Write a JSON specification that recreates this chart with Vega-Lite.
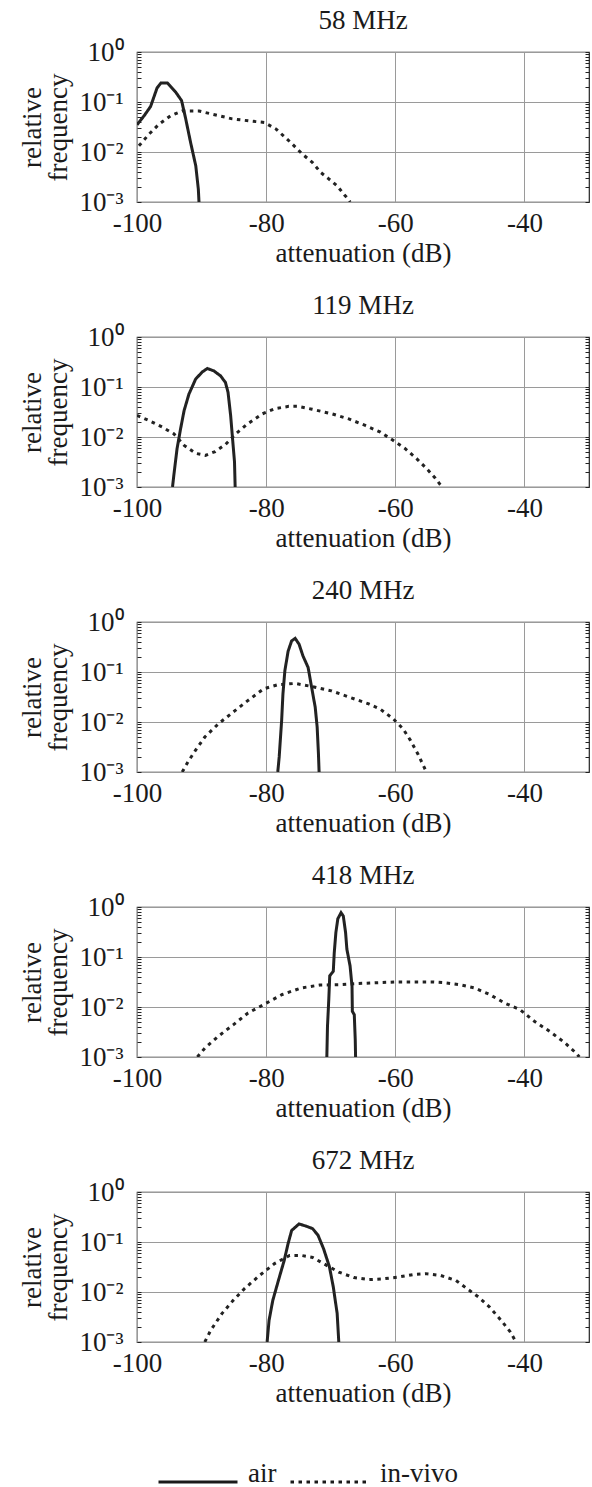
{
"$schema":"https://vega.github.io/schema/vega-lite/v6.json",
"padding":{"left":18,"top":6,"right":0,"bottom":0},
"data":{"values":[
{"panel":"58 MHz","series":"air","att":-100,"rel":0.035},
{"panel":"58 MHz","series":"air","att":-98.9,"rel":0.053},
{"panel":"58 MHz","series":"air","att":-97.9,"rel":0.081},
{"panel":"58 MHz","series":"air","att":-96.9,"rel":0.19},
{"panel":"58 MHz","series":"air","att":-96.3,"rel":0.24},
{"panel":"58 MHz","series":"air","att":-95.3,"rel":0.24},
{"panel":"58 MHz","series":"air","att":-94.0,"rel":0.157},
{"panel":"58 MHz","series":"air","att":-93.1,"rel":0.107},
{"panel":"58 MHz","series":"air","att":-92.5,"rel":0.049},
{"panel":"58 MHz","series":"air","att":-91.7,"rel":0.0155},
{"panel":"58 MHz","series":"air","att":-90.9,"rel":0.0053},
{"panel":"58 MHz","series":"air","att":-90.5,"rel":0.0018},
{"panel":"58 MHz","series":"air","att":-90.4,"rel":0.001},
{"panel":"58 MHz","series":"in-vivo","att":-99.7,"rel":0.0133},
{"panel":"58 MHz","series":"in-vivo","att":-98.1,"rel":0.023},
{"panel":"58 MHz","series":"in-vivo","att":-96.6,"rel":0.036},
{"panel":"58 MHz","series":"in-vivo","att":-94.8,"rel":0.053},
{"panel":"58 MHz","series":"in-vivo","att":-93.0,"rel":0.066},
{"panel":"58 MHz","series":"in-vivo","att":-90.4,"rel":0.066},
{"panel":"58 MHz","series":"in-vivo","att":-87.8,"rel":0.055},
{"panel":"58 MHz","series":"in-vivo","att":-85.25,"rel":0.046},
{"panel":"58 MHz","series":"in-vivo","att":-82.7,"rel":0.042},
{"panel":"58 MHz","series":"in-vivo","att":-80.3,"rel":0.039},
{"panel":"58 MHz","series":"in-vivo","att":-78.5,"rel":0.029},
{"panel":"58 MHz","series":"in-vivo","att":-77.8,"rel":0.024},
{"panel":"58 MHz","series":"in-vivo","att":-76.2,"rel":0.0155},
{"panel":"58 MHz","series":"in-vivo","att":-74.4,"rel":0.0091},
{"panel":"58 MHz","series":"in-vivo","att":-72.85,"rel":0.0062},
{"panel":"58 MHz","series":"in-vivo","att":-71.55,"rel":0.0039},
{"panel":"58 MHz","series":"in-vivo","att":-70.3,"rel":0.0029},
{"panel":"58 MHz","series":"in-vivo","att":-69.0,"rel":0.0021},
{"panel":"58 MHz","series":"in-vivo","att":-67.9,"rel":0.0014},
{"panel":"58 MHz","series":"in-vivo","att":-67.3,"rel":0.00115},
{"panel":"58 MHz","series":"in-vivo","att":-67.0,"rel":0.001},
{"panel":"119 MHz","series":"air","att":-94.5,"rel":0.001},
{"panel":"119 MHz","series":"air","att":-94.3,"rel":0.0017},
{"panel":"119 MHz","series":"air","att":-93.8,"rel":0.0058},
{"panel":"119 MHz","series":"air","att":-93.25,"rel":0.0146},
{"panel":"119 MHz","series":"air","att":-92.7,"rel":0.034},
{"panel":"119 MHz","series":"air","att":-91.96,"rel":0.072},
{"panel":"119 MHz","series":"air","att":-90.93,"rel":0.143},
{"panel":"119 MHz","series":"air","att":-89.9,"rel":0.2},
{"panel":"119 MHz","series":"air","att":-89.1,"rel":0.234},
{"panel":"119 MHz","series":"air","att":-88.1,"rel":0.21},
{"panel":"119 MHz","series":"air","att":-87.06,"rel":0.167},
{"panel":"119 MHz","series":"air","att":-86.3,"rel":0.123},
{"panel":"119 MHz","series":"air","att":-85.9,"rel":0.078},
{"panel":"119 MHz","series":"air","att":-85.5,"rel":0.027},
{"panel":"119 MHz","series":"air","att":-85.2,"rel":0.0092},
{"panel":"119 MHz","series":"air","att":-84.9,"rel":0.0032},
{"panel":"119 MHz","series":"air","att":-84.8,"rel":0.001},
{"panel":"119 MHz","series":"in-vivo","att":-100,"rel":0.027},
{"panel":"119 MHz","series":"in-vivo","att":-98.15,"rel":0.0214},
{"panel":"119 MHz","series":"in-vivo","att":-96.1,"rel":0.0158},
{"panel":"119 MHz","series":"in-vivo","att":-94.3,"rel":0.0116},
{"panel":"119 MHz","series":"in-vivo","att":-92.7,"rel":0.0068},
{"panel":"119 MHz","series":"in-vivo","att":-90.9,"rel":0.0047},
{"panel":"119 MHz","series":"in-vivo","att":-89.4,"rel":0.0043},
{"panel":"119 MHz","series":"in-vivo","att":-87.9,"rel":0.0051},
{"panel":"119 MHz","series":"in-vivo","att":-86.3,"rel":0.0071},
{"panel":"119 MHz","series":"in-vivo","att":-84.7,"rel":0.0116},
{"panel":"119 MHz","series":"in-vivo","att":-82.95,"rel":0.018},
{"panel":"119 MHz","series":"in-vivo","att":-80.6,"rel":0.029},
{"panel":"119 MHz","series":"in-vivo","att":-78.6,"rel":0.037},
{"panel":"119 MHz","series":"in-vivo","att":-76.5,"rel":0.041},
{"panel":"119 MHz","series":"in-vivo","att":-75.0,"rel":0.041},
{"panel":"119 MHz","series":"in-vivo","att":-72.9,"rel":0.036},
{"panel":"119 MHz","series":"in-vivo","att":-69.8,"rel":0.029},
{"panel":"119 MHz","series":"in-vivo","att":-67.2,"rel":0.023},
{"panel":"119 MHz","series":"in-vivo","att":-64.65,"rel":0.017},
{"panel":"119 MHz","series":"in-vivo","att":-62.3,"rel":0.0125},
{"panel":"119 MHz","series":"in-vivo","att":-60.3,"rel":0.0085},
{"panel":"119 MHz","series":"in-vivo","att":-58.5,"rel":0.0059},
{"panel":"119 MHz","series":"in-vivo","att":-56.7,"rel":0.0037},
{"panel":"119 MHz","series":"in-vivo","att":-55.1,"rel":0.0023},
{"panel":"119 MHz","series":"in-vivo","att":-53.8,"rel":0.0015},
{"panel":"119 MHz","series":"in-vivo","att":-53.05,"rel":0.00112},
{"panel":"119 MHz","series":"in-vivo","att":-52.7,"rel":0.001},
{"panel":"240 MHz","series":"air","att":-78.2,"rel":0.001},
{"panel":"240 MHz","series":"air","att":-77.98,"rel":0.002},
{"panel":"240 MHz","series":"air","att":-77.6,"rel":0.0107},
{"panel":"240 MHz","series":"air","att":-77.4,"rel":0.036},
{"panel":"240 MHz","series":"air","att":-77.1,"rel":0.106},
{"panel":"240 MHz","series":"air","att":-76.6,"rel":0.26},
{"panel":"240 MHz","series":"air","att":-76.05,"rel":0.42},
{"panel":"240 MHz","series":"air","att":-75.5,"rel":0.47},
{"panel":"240 MHz","series":"air","att":-74.9,"rel":0.36},
{"panel":"240 MHz","series":"air","att":-74.3,"rel":0.21},
{"panel":"240 MHz","series":"air","att":-73.5,"rel":0.123},
{"panel":"240 MHz","series":"air","att":-72.95,"rel":0.049},
{"panel":"240 MHz","series":"air","att":-72.4,"rel":0.0197},
{"panel":"240 MHz","series":"air","att":-72.1,"rel":0.0079},
{"panel":"240 MHz","series":"air","att":-71.9,"rel":0.0023},
{"panel":"240 MHz","series":"air","att":-71.8,"rel":0.001},
{"panel":"240 MHz","series":"in-vivo","att":-93.0,"rel":0.001},
{"panel":"240 MHz","series":"in-vivo","att":-92.1,"rel":0.0016},
{"panel":"240 MHz","series":"in-vivo","att":-90.95,"rel":0.0027},
{"panel":"240 MHz","series":"in-vivo","att":-89.5,"rel":0.005},
{"panel":"240 MHz","series":"in-vivo","att":-87.4,"rel":0.0092},
{"panel":"240 MHz","series":"in-vivo","att":-85.1,"rel":0.0158},
{"panel":"240 MHz","series":"in-vivo","att":-82.8,"rel":0.027},
{"panel":"240 MHz","series":"in-vivo","att":-80.4,"rel":0.046},
{"panel":"240 MHz","series":"in-vivo","att":-78.1,"rel":0.056},
{"panel":"240 MHz","series":"in-vivo","att":-75.5,"rel":0.059},
{"panel":"240 MHz","series":"in-vivo","att":-72.8,"rel":0.051},
{"panel":"240 MHz","series":"in-vivo","att":-69.9,"rel":0.042},
{"panel":"240 MHz","series":"in-vivo","att":-67.0,"rel":0.031},
{"panel":"240 MHz","series":"in-vivo","att":-64.1,"rel":0.023},
{"panel":"240 MHz","series":"in-vivo","att":-62.3,"rel":0.018},
{"panel":"240 MHz","series":"in-vivo","att":-60.3,"rel":0.0115},
{"panel":"240 MHz","series":"in-vivo","att":-58.8,"rel":0.0073},
{"panel":"240 MHz","series":"in-vivo","att":-57.65,"rel":0.0043},
{"panel":"240 MHz","series":"in-vivo","att":-56.5,"rel":0.0023},
{"panel":"240 MHz","series":"in-vivo","att":-55.3,"rel":0.00108},
{"panel":"240 MHz","series":"in-vivo","att":-55.2,"rel":0.001},
{"panel":"418 MHz","series":"air","att":-70.6,"rel":0.001},
{"panel":"418 MHz","series":"air","att":-70.5,"rel":0.0041},
{"panel":"418 MHz","series":"air","att":-70.3,"rel":0.014},
{"panel":"418 MHz","series":"air","att":-70.15,"rel":0.042},
{"panel":"418 MHz","series":"air","att":-69.6,"rel":0.052},
{"panel":"418 MHz","series":"air","att":-69.45,"rel":0.123},
{"panel":"418 MHz","series":"air","att":-69.2,"rel":0.31},
{"panel":"418 MHz","series":"air","att":-68.9,"rel":0.58},
{"panel":"418 MHz","series":"air","att":-68.4,"rel":0.77},
{"panel":"418 MHz","series":"air","att":-68.05,"rel":0.66},
{"panel":"418 MHz","series":"air","att":-67.7,"rel":0.31},
{"panel":"418 MHz","series":"air","att":-67.5,"rel":0.144},
{"panel":"418 MHz","series":"air","att":-67.0,"rel":0.066},
{"panel":"418 MHz","series":"air","att":-66.7,"rel":0.026},
{"panel":"418 MHz","series":"air","att":-66.65,"rel":0.0082},
{"panel":"418 MHz","series":"air","att":-66.35,"rel":0.007},
{"panel":"418 MHz","series":"air","att":-66.2,"rel":0.0022},
{"panel":"418 MHz","series":"air","att":-66.15,"rel":0.001},
{"panel":"418 MHz","series":"in-vivo","att":-90.65,"rel":0.001},
{"panel":"418 MHz","series":"in-vivo","att":-89.5,"rel":0.0015},
{"panel":"418 MHz","series":"in-vivo","att":-87.4,"rel":0.0026},
{"panel":"418 MHz","series":"in-vivo","att":-85.1,"rel":0.0044},
{"panel":"418 MHz","series":"in-vivo","att":-82.8,"rel":0.0076},
{"panel":"418 MHz","series":"in-vivo","att":-80.1,"rel":0.0117},
{"panel":"418 MHz","series":"in-vivo","att":-77.5,"rel":0.0178},
{"panel":"418 MHz","series":"in-vivo","att":-74.6,"rel":0.024},
{"panel":"418 MHz","series":"in-vivo","att":-71.7,"rel":0.0275},
{"panel":"418 MHz","series":"in-vivo","att":-68.75,"rel":0.028},
{"panel":"418 MHz","series":"in-vivo","att":-65.8,"rel":0.0295},
{"panel":"418 MHz","series":"in-vivo","att":-62.9,"rel":0.0306},
{"panel":"418 MHz","series":"in-vivo","att":-60.0,"rel":0.0316},
{"panel":"418 MHz","series":"in-vivo","att":-57.1,"rel":0.0316},
{"panel":"418 MHz","series":"in-vivo","att":-54.15,"rel":0.0316},
{"panel":"418 MHz","series":"in-vivo","att":-52.4,"rel":0.0306},
{"panel":"418 MHz","series":"in-vivo","att":-50.1,"rel":0.028},
{"panel":"418 MHz","series":"in-vivo","att":-47.7,"rel":0.024},
{"panel":"418 MHz","series":"in-vivo","att":-45.4,"rel":0.0178},
{"panel":"418 MHz","series":"in-vivo","att":-43.05,"rel":0.012},
{"panel":"418 MHz","series":"in-vivo","att":-40.7,"rel":0.0089},
{"panel":"418 MHz","series":"in-vivo","att":-38.4,"rel":0.0051},
{"panel":"418 MHz","series":"in-vivo","att":-36.0,"rel":0.0032},
{"panel":"418 MHz","series":"in-vivo","att":-33.7,"rel":0.0019},
{"panel":"418 MHz","series":"in-vivo","att":-31.95,"rel":0.00118},
{"panel":"418 MHz","series":"in-vivo","att":-31.5,"rel":0.001},
{"panel":"672 MHz","series":"air","att":-79.85,"rel":0.001},
{"panel":"672 MHz","series":"air","att":-79.55,"rel":0.0027},
{"panel":"672 MHz","series":"air","att":-78.97,"rel":0.0068},
{"panel":"672 MHz","series":"air","att":-78.1,"rel":0.017},
{"panel":"672 MHz","series":"air","att":-77.2,"rel":0.043},
{"panel":"672 MHz","series":"air","att":-76.6,"rel":0.093},
{"panel":"672 MHz","series":"air","att":-76.05,"rel":0.17},
{"panel":"672 MHz","series":"air","att":-74.9,"rel":0.23},
{"panel":"672 MHz","series":"air","att":-73.7,"rel":0.205},
{"panel":"672 MHz","series":"air","att":-72.8,"rel":0.185},
{"panel":"672 MHz","series":"air","att":-71.96,"rel":0.136},
{"panel":"672 MHz","series":"air","att":-71.1,"rel":0.073},
{"panel":"672 MHz","series":"air","att":-70.2,"rel":0.032},
{"panel":"672 MHz","series":"air","att":-69.6,"rel":0.0126},
{"panel":"672 MHz","series":"air","att":-69.0,"rel":0.0037},
{"panel":"672 MHz","series":"air","att":-68.75,"rel":0.001},
{"panel":"672 MHz","series":"in-vivo","att":-89.5,"rel":0.001},
{"panel":"672 MHz","series":"in-vivo","att":-88.6,"rel":0.0017},
{"panel":"672 MHz","series":"in-vivo","att":-86.85,"rel":0.0037},
{"panel":"672 MHz","series":"in-vivo","att":-85.1,"rel":0.0068},
{"panel":"672 MHz","series":"in-vivo","att":-83.35,"rel":0.0117},
{"panel":"672 MHz","series":"in-vivo","att":-81.0,"rel":0.0215},
{"panel":"672 MHz","series":"in-vivo","att":-78.7,"rel":0.037},
{"panel":"672 MHz","series":"in-vivo","att":-76.35,"rel":0.054},
{"panel":"672 MHz","series":"in-vivo","att":-74.6,"rel":0.054},
{"panel":"672 MHz","series":"in-vivo","att":-72.8,"rel":0.049},
{"panel":"672 MHz","series":"in-vivo","att":-71.1,"rel":0.037},
{"panel":"672 MHz","series":"in-vivo","att":-68.75,"rel":0.025},
{"panel":"672 MHz","series":"in-vivo","att":-66.4,"rel":0.0194},
{"panel":"672 MHz","series":"in-vivo","att":-64.1,"rel":0.0177},
{"panel":"672 MHz","series":"in-vivo","att":-61.75,"rel":0.0184},
{"panel":"672 MHz","series":"in-vivo","att":-59.4,"rel":0.02},
{"panel":"672 MHz","series":"in-vivo","att":-57.1,"rel":0.0225},
{"panel":"672 MHz","series":"in-vivo","att":-55.3,"rel":0.0233},
{"panel":"672 MHz","series":"in-vivo","att":-53.0,"rel":0.0215},
{"panel":"672 MHz","series":"in-vivo","att":-50.6,"rel":0.017},
{"panel":"672 MHz","series":"in-vivo","att":-48.9,"rel":0.0117},
{"panel":"672 MHz","series":"in-vivo","att":-47.1,"rel":0.0079},
{"panel":"672 MHz","series":"in-vivo","att":-45.4,"rel":0.005},
{"panel":"672 MHz","series":"in-vivo","att":-43.6,"rel":0.0027},
{"panel":"672 MHz","series":"in-vivo","att":-42.2,"rel":0.0016},
{"panel":"672 MHz","series":"in-vivo","att":-41.3,"rel":0.001}
]},
"spacing":24,
"vconcat":[
{"title":"58 MHz","width":452,"height":150,
"transform":[{"filter":"datum.panel==='58 MHz'"}],
"layer":[
{"mark":{"type":"line","clip":true},
"encoding":{
"x":{"field":"att","type":"quantitative","scale":{"domain":[-100,-30],"nice":false,"zero":false},"axis":{"values":[-100,-80,-60,-40],"labelExpr":"datum.value + ''","labelFlush":false,"ticks":false,"labelPadding":8,"title":"attenuation (dB)","titlePadding":4}},
"y":{"field":"rel","type":"quantitative","scale":{"type":"log","domain":[0.001,1]},"axis":{"orient":"left","values":[0.001,0.002,0.003,0.004,0.005,0.006,0.007,0.008,0.009,0.01,0.02,0.03,0.04,0.05,0.06,0.07,0.08,0.09,0.1,0.2,0.3,0.4,0.5,0.6,0.7,0.8,0.9,1],"labelExpr":"datum.value==1?'10⁰':datum.value==0.1?'10⁻¹':datum.value==0.01?'10⁻²':datum.value==0.001?'10⁻³':''","labelOverlap":false,"gridOpacity":{"condition":{"test":"datum.value==1||datum.value==0.1||datum.value==0.01||datum.value==0.001","value":1},"value":0},"tickSize":-4,"labelPadding":18,"title":["relative","frequency"],"titlePadding":6,"titleLineHeight":26}},
"strokeDash":{"field":"series","type":"nominal","scale":{"domain":["air","in-vivo"],"range":[[1,0],[3.5,4.5]]},"legend":{"title":null,"orient":"none","legendX":20,"legendY":1389,"direction":"horizontal","symbolType":"stroke","symbolSize":6241,"symbolStrokeWidth":4,"symbolStrokeColor":"#1a1a1a","labelFontSize":27,"labelFont":"Liberation Serif","labelColor":"#1a1a1a","labelOffset":9,"columnPadding":7,"labelBaseline":"alphabetic"}}}},
{"mark":{"type":"line","opacity":0},
"encoding":{
"x":{"field":"att","type":"quantitative"},
"y":{"field":"rel","type":"quantitative","axis":{"orient":"right","values":[0.001,0.002,0.003,0.004,0.005,0.006,0.007,0.008,0.009,0.01,0.02,0.03,0.04,0.05,0.06,0.07,0.08,0.09,0.1,0.2,0.3,0.4,0.5,0.6,0.7,0.8,0.9,1],"labels":false,"grid":false,"tickSize":-4,"title":null}},
"detail":{"field":"series"}}}
],
"resolve":{"axis":{"y":"independent"}}},
{"title":"119 MHz","width":452,"height":150,
"transform":[{"filter":"datum.panel==='119 MHz'"}],
"layer":[
{"mark":{"type":"line","clip":true},
"encoding":{
"x":{"field":"att","type":"quantitative","scale":{"domain":[-100,-30],"nice":false,"zero":false},"axis":{"values":[-100,-80,-60,-40],"labelExpr":"datum.value + ''","labelFlush":false,"ticks":false,"labelPadding":8,"title":"attenuation (dB)","titlePadding":4}},
"y":{"field":"rel","type":"quantitative","scale":{"type":"log","domain":[0.001,1]},"axis":{"orient":"left","values":[0.001,0.002,0.003,0.004,0.005,0.006,0.007,0.008,0.009,0.01,0.02,0.03,0.04,0.05,0.06,0.07,0.08,0.09,0.1,0.2,0.3,0.4,0.5,0.6,0.7,0.8,0.9,1],"labelExpr":"datum.value==1?'10⁰':datum.value==0.1?'10⁻¹':datum.value==0.01?'10⁻²':datum.value==0.001?'10⁻³':''","labelOverlap":false,"gridOpacity":{"condition":{"test":"datum.value==1||datum.value==0.1||datum.value==0.01||datum.value==0.001","value":1},"value":0},"tickSize":-4,"labelPadding":18,"title":["relative","frequency"],"titlePadding":6,"titleLineHeight":26}},
"strokeDash":{"field":"series","type":"nominal","scale":{"domain":["air","in-vivo"],"range":[[1,0],[3.5,4.5]]},"legend":{"title":null,"orient":"none","legendX":20,"legendY":1389,"direction":"horizontal","symbolType":"stroke","symbolSize":6241,"symbolStrokeWidth":4,"symbolStrokeColor":"#1a1a1a","labelFontSize":27,"labelFont":"Liberation Serif","labelColor":"#1a1a1a","labelOffset":9,"columnPadding":7,"labelBaseline":"alphabetic"}}}},
{"mark":{"type":"line","opacity":0},
"encoding":{
"x":{"field":"att","type":"quantitative"},
"y":{"field":"rel","type":"quantitative","axis":{"orient":"right","values":[0.001,0.002,0.003,0.004,0.005,0.006,0.007,0.008,0.009,0.01,0.02,0.03,0.04,0.05,0.06,0.07,0.08,0.09,0.1,0.2,0.3,0.4,0.5,0.6,0.7,0.8,0.9,1],"labels":false,"grid":false,"tickSize":-4,"title":null}},
"detail":{"field":"series"}}}
],
"resolve":{"axis":{"y":"independent"}}},
{"title":"240 MHz","width":452,"height":150,
"transform":[{"filter":"datum.panel==='240 MHz'"}],
"layer":[
{"mark":{"type":"line","clip":true},
"encoding":{
"x":{"field":"att","type":"quantitative","scale":{"domain":[-100,-30],"nice":false,"zero":false},"axis":{"values":[-100,-80,-60,-40],"labelExpr":"datum.value + ''","labelFlush":false,"ticks":false,"labelPadding":8,"title":"attenuation (dB)","titlePadding":4}},
"y":{"field":"rel","type":"quantitative","scale":{"type":"log","domain":[0.001,1]},"axis":{"orient":"left","values":[0.001,0.002,0.003,0.004,0.005,0.006,0.007,0.008,0.009,0.01,0.02,0.03,0.04,0.05,0.06,0.07,0.08,0.09,0.1,0.2,0.3,0.4,0.5,0.6,0.7,0.8,0.9,1],"labelExpr":"datum.value==1?'10⁰':datum.value==0.1?'10⁻¹':datum.value==0.01?'10⁻²':datum.value==0.001?'10⁻³':''","labelOverlap":false,"gridOpacity":{"condition":{"test":"datum.value==1||datum.value==0.1||datum.value==0.01||datum.value==0.001","value":1},"value":0},"tickSize":-4,"labelPadding":18,"title":["relative","frequency"],"titlePadding":6,"titleLineHeight":26}},
"strokeDash":{"field":"series","type":"nominal","scale":{"domain":["air","in-vivo"],"range":[[1,0],[3.5,4.5]]},"legend":{"title":null,"orient":"none","legendX":20,"legendY":1389,"direction":"horizontal","symbolType":"stroke","symbolSize":6241,"symbolStrokeWidth":4,"symbolStrokeColor":"#1a1a1a","labelFontSize":27,"labelFont":"Liberation Serif","labelColor":"#1a1a1a","labelOffset":9,"columnPadding":7,"labelBaseline":"alphabetic"}}}},
{"mark":{"type":"line","opacity":0},
"encoding":{
"x":{"field":"att","type":"quantitative"},
"y":{"field":"rel","type":"quantitative","axis":{"orient":"right","values":[0.001,0.002,0.003,0.004,0.005,0.006,0.007,0.008,0.009,0.01,0.02,0.03,0.04,0.05,0.06,0.07,0.08,0.09,0.1,0.2,0.3,0.4,0.5,0.6,0.7,0.8,0.9,1],"labels":false,"grid":false,"tickSize":-4,"title":null}},
"detail":{"field":"series"}}}
],
"resolve":{"axis":{"y":"independent"}}},
{"title":"418 MHz","width":452,"height":150,
"transform":[{"filter":"datum.panel==='418 MHz'"}],
"layer":[
{"mark":{"type":"line","clip":true},
"encoding":{
"x":{"field":"att","type":"quantitative","scale":{"domain":[-100,-30],"nice":false,"zero":false},"axis":{"values":[-100,-80,-60,-40],"labelExpr":"datum.value + ''","labelFlush":false,"ticks":false,"labelPadding":8,"title":"attenuation (dB)","titlePadding":4}},
"y":{"field":"rel","type":"quantitative","scale":{"type":"log","domain":[0.001,1]},"axis":{"orient":"left","values":[0.001,0.002,0.003,0.004,0.005,0.006,0.007,0.008,0.009,0.01,0.02,0.03,0.04,0.05,0.06,0.07,0.08,0.09,0.1,0.2,0.3,0.4,0.5,0.6,0.7,0.8,0.9,1],"labelExpr":"datum.value==1?'10⁰':datum.value==0.1?'10⁻¹':datum.value==0.01?'10⁻²':datum.value==0.001?'10⁻³':''","labelOverlap":false,"gridOpacity":{"condition":{"test":"datum.value==1||datum.value==0.1||datum.value==0.01||datum.value==0.001","value":1},"value":0},"tickSize":-4,"labelPadding":18,"title":["relative","frequency"],"titlePadding":6,"titleLineHeight":26}},
"strokeDash":{"field":"series","type":"nominal","scale":{"domain":["air","in-vivo"],"range":[[1,0],[3.5,4.5]]},"legend":{"title":null,"orient":"none","legendX":20,"legendY":1389,"direction":"horizontal","symbolType":"stroke","symbolSize":6241,"symbolStrokeWidth":4,"symbolStrokeColor":"#1a1a1a","labelFontSize":27,"labelFont":"Liberation Serif","labelColor":"#1a1a1a","labelOffset":9,"columnPadding":7,"labelBaseline":"alphabetic"}}}},
{"mark":{"type":"line","opacity":0},
"encoding":{
"x":{"field":"att","type":"quantitative"},
"y":{"field":"rel","type":"quantitative","axis":{"orient":"right","values":[0.001,0.002,0.003,0.004,0.005,0.006,0.007,0.008,0.009,0.01,0.02,0.03,0.04,0.05,0.06,0.07,0.08,0.09,0.1,0.2,0.3,0.4,0.5,0.6,0.7,0.8,0.9,1],"labels":false,"grid":false,"tickSize":-4,"title":null}},
"detail":{"field":"series"}}}
],
"resolve":{"axis":{"y":"independent"}}},
{"title":"672 MHz","width":452,"height":150,
"transform":[{"filter":"datum.panel==='672 MHz'"}],
"layer":[
{"mark":{"type":"line","clip":true},
"encoding":{
"x":{"field":"att","type":"quantitative","scale":{"domain":[-100,-30],"nice":false,"zero":false},"axis":{"values":[-100,-80,-60,-40],"labelExpr":"datum.value + ''","labelFlush":false,"ticks":false,"labelPadding":8,"title":"attenuation (dB)","titlePadding":4}},
"y":{"field":"rel","type":"quantitative","scale":{"type":"log","domain":[0.001,1]},"axis":{"orient":"left","values":[0.001,0.002,0.003,0.004,0.005,0.006,0.007,0.008,0.009,0.01,0.02,0.03,0.04,0.05,0.06,0.07,0.08,0.09,0.1,0.2,0.3,0.4,0.5,0.6,0.7,0.8,0.9,1],"labelExpr":"datum.value==1?'10⁰':datum.value==0.1?'10⁻¹':datum.value==0.01?'10⁻²':datum.value==0.001?'10⁻³':''","labelOverlap":false,"gridOpacity":{"condition":{"test":"datum.value==1||datum.value==0.1||datum.value==0.01||datum.value==0.001","value":1},"value":0},"tickSize":-4,"labelPadding":18,"title":["relative","frequency"],"titlePadding":6,"titleLineHeight":26}},
"strokeDash":{"field":"series","type":"nominal","scale":{"domain":["air","in-vivo"],"range":[[1,0],[3.5,4.5]]},"legend":{"title":null,"orient":"none","legendX":20,"legendY":1389,"direction":"horizontal","symbolType":"stroke","symbolSize":6241,"symbolStrokeWidth":4,"symbolStrokeColor":"#1a1a1a","labelFontSize":27,"labelFont":"Liberation Serif","labelColor":"#1a1a1a","labelOffset":9,"columnPadding":7,"labelBaseline":"alphabetic"}}}},
{"mark":{"type":"line","opacity":0},
"encoding":{
"x":{"field":"att","type":"quantitative"},
"y":{"field":"rel","type":"quantitative","axis":{"orient":"right","values":[0.001,0.002,0.003,0.004,0.005,0.006,0.007,0.008,0.009,0.01,0.02,0.03,0.04,0.05,0.06,0.07,0.08,0.09,0.1,0.2,0.3,0.4,0.5,0.6,0.7,0.8,0.9,1],"labels":false,"grid":false,"tickSize":-4,"title":null}},
"detail":{"field":"series"}}}
],
"resolve":{"axis":{"y":"independent"}}}
],
"config":{
"font":"Liberation Serif",
"background":"white",
"view":{"stroke":"#222","strokeWidth":1.2},
"axis":{"labelFont":"Liberation Serif","labelFontSize":27,"labelColor":"#1a1a1a","titleFont":"Liberation Serif","titleFontSize":27,"titleFontWeight":"normal","titleColor":"#1a1a1a","gridColor":"#9a9a9a","gridWidth":1,"domain":false,"tickColor":"#222"},
"title":{"font":"Liberation Serif","fontSize":27,"fontWeight":"normal","color":"#1a1a1a","anchor":"middle","frame":"group","baseline":"alphabetic","offset":3},
"line":{"color":"#222","strokeWidth":3,"strokeCap":"butt"}
}
}
